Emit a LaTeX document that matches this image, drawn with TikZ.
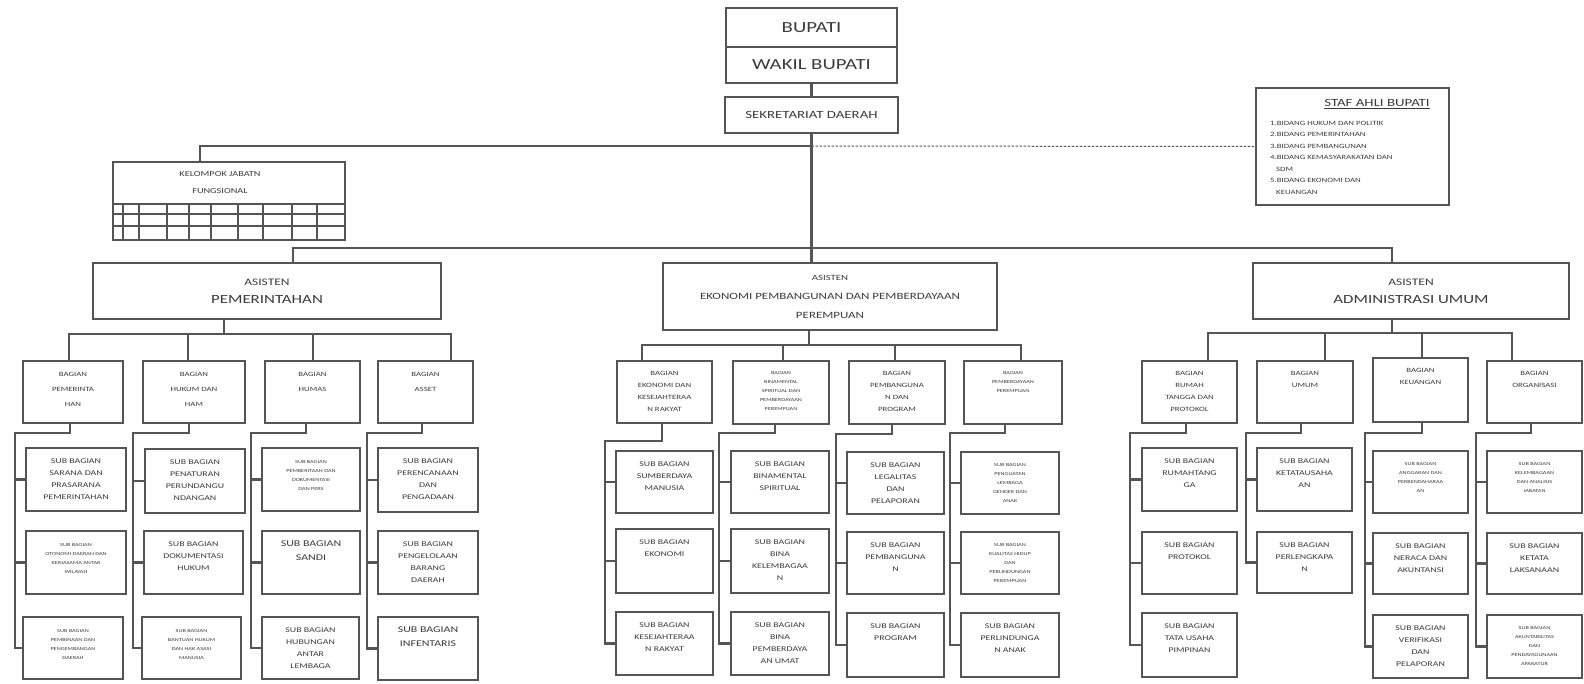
\documentclass[tikz,border=0pt]{standalone}
\usepackage{fontspec}
\setmainfont[FakeStretch=1.35]{Carlito}
\usetikzlibrary{fit,calc}
\definecolor{lc}{HTML}{555555}
\definecolor{tc}{HTML}{3C3C3C}
\tikzset{
  box/.style={draw=lc, line width=1.6pt, inner sep=0pt, outer sep=0pt},
  conn/.style={draw=lc, line width=2.2pt},
  dashline/.style={draw=lc, line width=1pt, dash pattern=on 2.5pt off 1.5pt},
  gridl/.style={draw=lc, line width=1.3pt},
  tsub/.style={font=\fontsize{7.3}{12}\selectfont, align=center, text=tc, inner sep=0pt},
  tsubL/.style={font=\fontsize{8.8}{14}\selectfont, align=center, text=tc, inner sep=0pt},
  ttiny/.style={font=\fontsize{4.6}{9}\selectfont, align=center, text=tc, inner sep=0pt},
  tbag/.style={font=\fontsize{6.5}{12}\selectfont, align=center, text=tc, inner sep=0pt},
  tbagL/.style={font=\fontsize{6.5}{15}\selectfont, align=center, text=tc, inner sep=0pt},
}
\newcommand\bx[8]{%
  \node[box, fit={(#2,#3)(#4,#5)}] (#1) {};
  \node[#6, anchor=north] (#1t) at ([yshift=-#7pt]#1.north) {#8};}
\newcommand\brthree[7]{%
  \coordinate (#1d) at (#2,#3); \coordinate (#1e) at (#4,#3);
  \draw[conn] (#1d |- #1.south) -- (#1d) -- (#1e) |- (#7.west);
  \draw[conn] (#1e |- #5.west) -- (#5.west);
  \draw[conn] (#1e |- #6.west) -- (#6.west);}
\begin{document}
\begin{tikzpicture}[x=1pt,y=-1pt]
\useasboundingbox[fill=white] (0,0) rectangle (1584,683);

% ---- top ----
\node[box, minimum width=171pt, minimum height=39pt, font=\fontsize{15.4}{18}\selectfont, text=tc] (bup) at (811.5,27.5) {BUPATI};
\node[box, minimum width=171pt, minimum height=36pt, font=\fontsize{15.4}{18}\selectfont, text=tc] (wak) at (811.5,65) {WAKIL BUPATI};
\node[box, minimum width=173pt, minimum height=36pt, font=\fontsize{11}{13}\selectfont, text=tc] (sek) at (811.5,115) {SEKRETARIAT DAERAH};

% staf ahli
\node[box, minimum width=193pt, minimum height=117pt] (staf) at (1352.5,146.5) {};
\node[font=\fontsize{11}{13}\selectfont, text=tc, inner sep=0pt] (staft) at (1377,104) {\underline{STAF AHLI BUPATI}};
\node[font=\fontsize{6.5}{11.5}\selectfont, text=tc, align=left, anchor=north west, inner sep=0pt] (stafi) at (1270,121) {1.BIDANG HUKUM DAN POLITIK\\2.BIDANG PEMERINTAHAN\\3.BIDANG PEMBANGUNAN\\4.BIDANG KEMASYARAKATAN DAN\\\hspace*{6pt}SDM\\5.BIDANG EKONOMI DAN\\\hspace*{6pt}KEUANGAN};

% kelompok jabatan
\node[box, minimum width=232pt, minimum height=78pt] (kel) at (229,201) {};
\node[font=\fontsize{7.6}{17}\selectfont, text=tc, align=center, inner sep=0pt] (kelt) at (220,183) {KELOMPOK JABATN\\FUNGSIONAL};
\draw[gridl] (kel.west |- 0,204) -- (kel.east |- 0,204);
\foreach \y in {214,226} \draw[gridl] (113,\y) -- (345,\y);
\foreach \x in {123,139,167,189,211,238,263,292,317} \draw[gridl] (\x,204) -- (\x,240);

% asisten
\node[box, minimum width=348pt, minimum height=56pt, font=\fontsize{10}{18}\selectfont, text=tc, align=center] (ap) at (267,291) {ASISTEN\\{\fontsize{12.5}{18}\selectfont PEMERINTAHAN}};
\node[box, minimum width=334pt, minimum height=67pt, font=\fontsize{8}{19}\selectfont, text=tc, align=center] (ae) at (830,296.5) {ASISTEN\\{\fontsize{9.6}{19}\selectfont EKONOMI PEMBANGUNAN DAN PEMBERDAYAAN}\\{\fontsize{9.6}{19}\selectfont PEREMPUAN}};
\node[box, minimum width=316pt, minimum height=56pt, font=\fontsize{10}{18}\selectfont, text=tc, align=center] (aa) at (1411,291) {ASISTEN\\{\fontsize{12.5}{18}\selectfont ADMINISTRASI UMUM}};

% ---- left bagian ----
\bx{lb1}{23}{361}{123}{423}{tbagL}{11}{BAGIAN\\PEMERINTA\\HAN}
\bx{lb2}{143}{361}{245}{423}{tbagL}{11}{BAGIAN\\HUKUM DAN\\HAM}
\bx{lb3}{265}{361}{360}{423}{tbagL}{11}{BAGIAN\\HUMAS}
\bx{lb4}{378}{361}{473}{423}{tbagL}{11}{BAGIAN\\ASSET}

\bx{ls11}{26}{448}{126}{511}{tsub}{11}{SUB BAGIAN\\SARANA DAN\\PRASARANA\\PEMERINTAHAN}
\bx{ls12}{26}{531}{126}{594}{ttiny}{12}{SUB BAGIAN\\OTONOMI DAERAH DAN\\KERJASAMA ANTAR\\WILAYAH}
\bx{ls13}{23}{617}{123}{679}{ttiny}{12}{SUB BAGIAN\\PEMBINAAN DAN\\PENGEMBANGAN\\DAERAH}
\bx{ls21}{145}{449}{245}{513}{tsub}{11}{SUB BAGIAN\\PENATURAN\\PERUNDANGU\\NDANGAN}
\bx{ls22}{144}{531}{243}{594}{tsub}{11}{SUB BAGIAN\\DOKUMENTASI\\HUKUM}
\bx{ls23}{142}{617}{241}{679}{ttiny}{12}{SUB BAGIAN\\BANTUAN HUKUM\\DAN HAK ASASI\\MANUSIA}
\bx{ls31}{262}{448}{360}{511}{ttiny}{12}{SUB BAGIAN\\PEMBERITAAN DAN\\DOKUMENTASI\\DAN PERS}
\bx{ls32}{262}{531}{360}{594}{tsubL}{10}{SUB BAGIAN\\SANDI}
\bx{ls33}{262}{617}{359}{679}{tsub}{11}{SUB BAGIAN\\HUBUNGAN\\ANTAR\\LEMBAGA}
\bx{ls41}{378}{448}{478}{512}{tsub}{11}{SUB BAGIAN\\PERENCANAAN\\DAN\\PENGADAAN}
\bx{ls42}{378}{531}{478}{594}{tsub}{11}{SUB BAGIAN\\PENGELOLAAN\\BARANG\\DAERAH}
\bx{ls43}{378}{617}{478}{680}{tsubL}{10}{SUB BAGIAN\\INFENTARIS}

% ---- middle bagian ----
\bx{mb1}{617}{361}{712}{423}{tbag}{10}{BAGIAN\\EKONOMI DAN\\KESEJAHTERAA\\N RAKYAT}
\bx{mb2}{733}{361}{829}{424}{ttiny}{10}{BAGIAN\\BINAMENTAL\\SPIRITUAL DAN\\PEMBERDAYAAN\\PEREMPUAN}
\bx{mb3}{849}{361}{945}{424}{tbag}{10}{BAGIAN\\PEMBANGUNA\\N DAN\\PROGRAM}
\bx{mb4}{964}{361}{1062}{424}{ttiny}{10}{BAGIAN\\PEMBERDAYAAN\\PEREMPUAN}

\bx{ms11}{616}{451}{713}{513}{tsub}{11}{SUB BAGIAN\\SUMBERDAYA\\MANUSIA}
\bx{ms12}{616}{529}{713}{593}{tsub}{11}{SUB BAGIAN\\EKONOMI}
\bx{ms13}{616}{612}{713}{675}{tsub}{11}{SUB BAGIAN\\KESEJAHTERAA\\N RAKYAT}
\bx{ms21}{731}{451}{829}{513}{tsub}{11}{SUB BAGIAN\\BINAMENTAL\\SPIRITUAL}
\bx{ms22}{731}{529}{829}{593}{tsub}{11}{SUB BAGIAN\\BINA\\KELEMBAGAA\\N}
\bx{ms23}{731}{612}{829}{675}{tsub}{11}{SUB BAGIAN\\BINA\\PEMBERDAYA\\AN UMAT}
\bx{ms31}{847}{452}{944}{514}{tsub}{11}{SUB BAGIAN\\LEGALITAS\\DAN\\PELAPORAN}
\bx{ms32}{847}{532}{944}{594}{tsub}{11}{SUB BAGIAN\\PEMBANGUNA\\N}
\bx{ms33}{847}{613}{944}{677}{tsub}{11}{SUB BAGIAN\\PROGRAM}
\bx{ms41}{961}{452}{1059}{514}{ttiny}{11}{SUB BAGIAN\\PENGUATAN\\LEMBAGA\\GENDER DAN\\ANAK}
\bx{ms42}{961}{532}{1059}{594}{ttiny}{11}{SUB BAGIAN\\KUALITAS HIDUP\\DAN\\PERLINDUNGAN\\PEREMPUAN}
\bx{ms43}{961}{613}{1059}{677}{tsub}{11}{SUB BAGIAN\\PERLINDUNGA\\N ANAK}

% ---- right bagian ----
\bx{rb1}{1142}{361}{1237}{423}{tbag}{10}{BAGIAN\\RUMAH\\TANGGA DAN\\PROTOKOL}
\bx{rb2}{1257}{361}{1353}{423}{tbag}{10}{BAGIAN\\UMUM}
\bx{rb3}{1373}{358}{1468}{422}{tbag}{10}{BAGIAN\\KEUANGAN}
\bx{rb4}{1487}{361}{1582}{423}{tbag}{10}{BAGIAN\\ORGANISASI}

\bx{rs11}{1142}{448}{1237}{511}{tsub}{11}{SUB BAGIAN\\RUMAHTANG\\GA}
\bx{rs12}{1142}{532}{1237}{594}{tsub}{11}{SUB BAGIAN\\PROTOKOL}
\bx{rs13}{1142}{613}{1237}{677}{tsub}{11}{SUB BAGIAN\\TATA USAHA\\PIMPINAN}
\bx{rs21}{1257}{448}{1352}{511}{tsub}{11}{SUB BAGIAN\\KETATAUSAHA\\AN}
\bx{rs22}{1257}{532}{1352}{593}{tsub}{11}{SUB BAGIAN\\PERLENGKAPA\\N}
\bx{rs31}{1373}{451}{1468}{513}{ttiny}{11}{SUB BAGIAN\\ANGGARAN DAN\\PERBENDAHARAA\\AN}
\bx{rs32}{1373}{533}{1468}{594}{tsub}{11}{SUB BAGIAN\\NERACA DAN\\AKUNTANSI}
\bx{rs33}{1373}{615}{1468}{678}{tsub}{11}{SUB BAGIAN\\VERIFIKASI\\DAN\\PELAPORAN}
\bx{rs41}{1487}{451}{1582}{513}{ttiny}{11}{SUB BAGIAN\\KELEMBAGAAN\\DAN ANALISIS\\JABATAN}
\bx{rs42}{1487}{533}{1582}{594}{tsub}{11}{SUB BAGIAN\\KETATA\\LAKSANAAN}
\bx{rs43}{1487}{615}{1582}{678}{ttiny}{11}{SUB BAGIAN\\AKUNTABILITAS\\DAN\\PENDAYAGUNAAN\\APARATUR}

% ---- top connectors ----
\coordinate (j1) at (811.5,146);
\coordinate (kk) at (200,146);
\coordinate (ja) at (811.5,248);
\coordinate (aL) at (293,248);
\coordinate (aR) at (1392,248);
\draw[conn] (wak.south) -- (sek.north);
\draw[conn] (sek.south) -- (ja) -- (ja |- ae.north);
\draw[conn] (j1) -- (kk) -- (kk |- kel.north);
\draw[dashline] (j1) -- (staf.west);
\draw[conn] (aL |- ap.north) -- (aL) -- (aR) -- (aR |- aa.north);

% ---- asisten to bagian ----
\coordinate (pL) at (224,334);
\coordinate (pL1) at (69,334); \coordinate (pL2) at (188,334);
\coordinate (pL3) at (313,334); \coordinate (pL4) at (451,334);
\draw[conn] (pL |- ap.south) -- (pL);
\draw[conn] (pL1 |- lb1.north) -- (pL1) -- (pL4) -- (pL4 |- lb4.north);
\draw[conn] (pL2) -- (pL2 |- lb2.north);
\draw[conn] (pL3) -- (pL3 |- lb3.north);

\coordinate (pM) at (809,345);
\coordinate (pM1) at (642,345); \coordinate (pM2) at (783,345);
\coordinate (pM3) at (895,345); \coordinate (pM4) at (1021,345);
\draw[conn] (pM |- ae.south) -- (pM);
\draw[conn] (pM1 |- mb1.north) -- (pM1) -- (pM4) -- (pM4 |- mb4.north);
\draw[conn] (pM2) -- (pM2 |- mb2.north);
\draw[conn] (pM3) -- (pM3 |- mb3.north);

\coordinate (pR) at (1392,333);
\coordinate (pR1) at (1208,333); \coordinate (pR2) at (1325,333);
\coordinate (pR3) at (1422,333); \coordinate (pR4) at (1512,333);
\draw[conn] (pR |- aa.south) -- (pR);
\draw[conn] (pR1 |- rb1.north) -- (pR1) -- (pR4) -- (pR4 |- rb4.north);
\draw[conn] (pR2) -- (pR2 |- rb2.north);
\draw[conn] (pR3) -- (pR3 |- rb3.north);

% ---- bagian to sub bagian ----
\brthree{lb1}{70}{433}{15}{ls11}{ls12}{ls13}
\brthree{lb2}{189}{433}{133}{ls21}{ls22}{ls23}
\brthree{lb3}{306}{433}{251}{ls31}{ls32}{ls33}
\brthree{lb4}{422}{433}{367}{ls41}{ls42}{ls43}
\brthree{mb1}{662}{441}{605}{ms11}{ms12}{ms13}
\brthree{mb2}{775}{433}{719}{ms21}{ms22}{ms23}
\brthree{mb3}{892}{434}{836}{ms31}{ms32}{ms33}
\brthree{mb4}{1005}{433}{950}{ms41}{ms42}{ms43}
\brthree{rb1}{1186}{433}{1130}{rs11}{rs12}{rs13}
\brthree{rb3}{1422}{433}{1365}{rs31}{rs32}{rs33}
\brthree{rb4}{1531}{433}{1476}{rs41}{rs42}{rs43}
\coordinate (rb2d) at (1301,433); \coordinate (rb2e) at (1246,433);
\draw[conn] (rb2d |- rb2.south) -- (rb2d) -- (rb2e) |- (rs22.west);
\draw[conn] (rb2e |- rs21.west) -- (rs21.west);
\end{tikzpicture}
\end{document}
